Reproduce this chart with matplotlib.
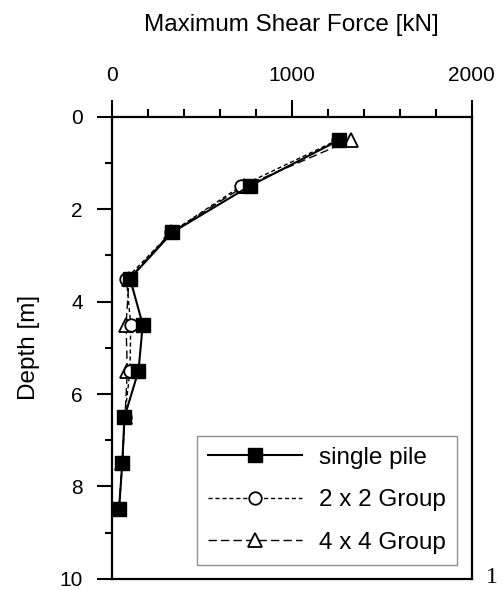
import matplotlib.pyplot as plt
from matplotlib.ticker import MultipleLocator

plt.rcParams['font.family'] = ['Liberation Sans', 'DejaVu Sans']

# depth of each reading [m]
depth = [0.5, 1.5, 2.5, 3.5, 4.5, 5.5, 6.5, 7.5, 8.5]

# maximum shear force [kN]
single_pile = [1265, 765, 336, 100, 171, 147, 69, 57, 39]
group_2x2 = [1255, 717, 330, 80, 104, 100, 70, 57, 39]
group_4x4 = [1330, 735, 330, 95, 78, 85, 72, 57, 39]

labels = ['single pile', '2 x 2 Group', '4 x 4 Group']

fig = plt.figure(figsize=(5.03, 5.90), dpi=100)
ax = fig.add_axes([0.2227, 0.019, 0.715, 0.783])

ax.plot(group_4x4, depth, color='black', linestyle=(0, (6, 3)), lw=1.0,
        marker='^', markersize=10, markerfacecolor='white',
        markeredgecolor='black', markeredgewidth=1.3, label=labels[2])
ax.plot(group_2x2, depth, color='black', linestyle=(0, (3, 2)), lw=1.0,
        marker='o', markersize=9, markerfacecolor='white',
        markeredgecolor='black', markeredgewidth=1.3, label=labels[1])
ax.plot(single_pile, depth, color='black', linestyle='-', lw=1.5,
        marker='s', markersize=10.5, markerfacecolor='black',
        markeredgecolor='black', label=labels[0])

ax.set_xlim(0, 2000)
ax.set_ylim(10, 0)

ax.xaxis.set_major_locator(MultipleLocator(1000))
ax.xaxis.set_minor_locator(MultipleLocator(200))
ax.yaxis.set_major_locator(MultipleLocator(2))
ax.yaxis.set_minor_locator(MultipleLocator(1))

ax.xaxis.tick_top()
ax.xaxis.set_label_position('top')
ax.tick_params(axis='x', which='major', direction='out', length=12, width=1.5,
               pad=11, labelsize=15)
ax.tick_params(axis='x', which='minor', direction='out', length=6, width=1.5)
ax.tick_params(axis='y', which='major', direction='out', length=11, width=1.5,
               pad=10, labelsize=15)
ax.tick_params(axis='y', which='minor', direction='out', length=5, width=1.5)

for s in ax.spines.values():
    s.set_linewidth(1.6)

ax.set_xlabel('Maximum Shear Force [kN]', fontsize=17.5, labelpad=25)
ax.set_ylabel('Depth [m]', fontsize=17.5, labelpad=14)

handles, labs = ax.get_legend_handles_labels()
order = [2, 1, 0]
leg = ax.legend([handles[i] for i in order], [labs[i] for i in order],
                loc='lower right', bbox_to_anchor=(0.96, 0.03), fontsize=17.5,
                frameon=True, fancybox=False, handlelength=3.9,
                labelspacing=0.85, borderpad=0.45, handletextpad=0.7,
                borderaxespad=0.0)
leg.get_frame().set_edgecolor('#777777')
leg.get_frame().set_linewidth(1.0)

fig.text(0.966, 0.004, '1', fontsize=17, family='Liberation Serif',
         va='bottom')

fig.savefig('out.png', dpi=100)
